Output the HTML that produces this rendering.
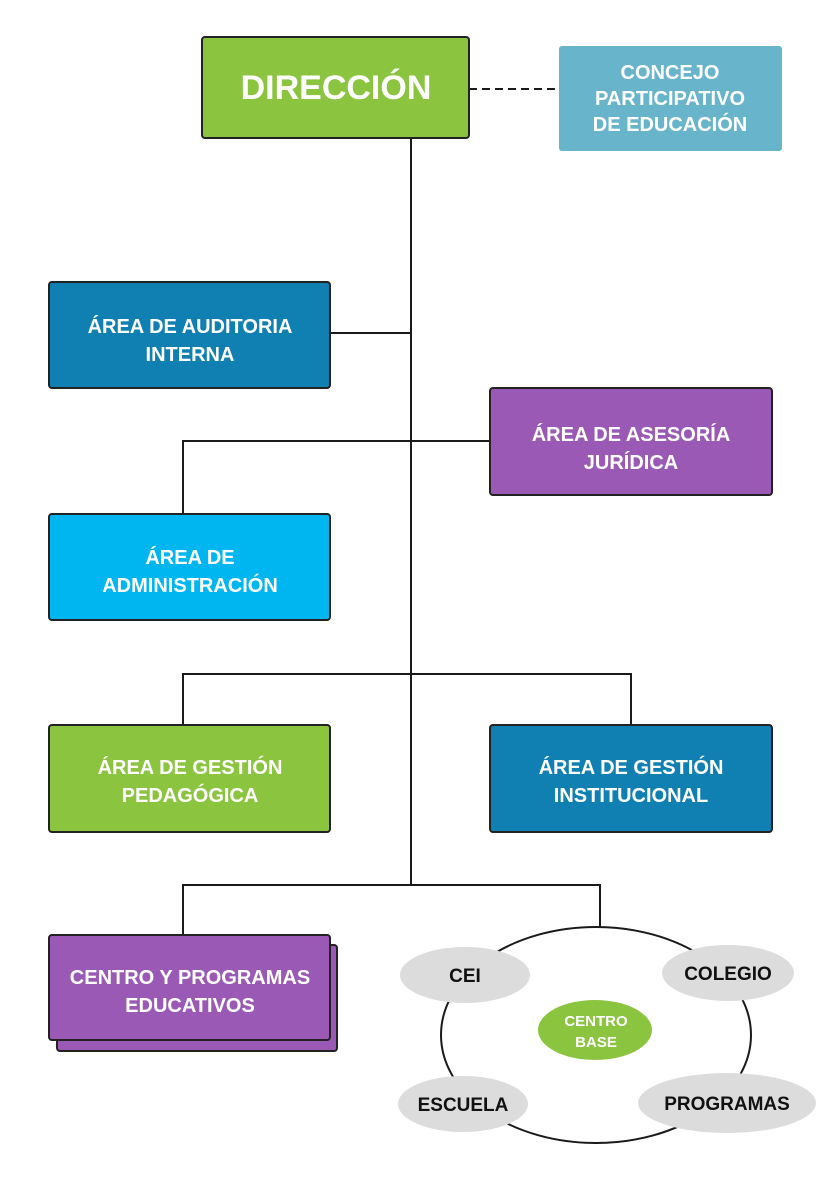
<!DOCTYPE html>
<html><head><meta charset="utf-8"><style>
html,body{margin:0;padding:0;background:#fff;}
svg{display:block;}
text{font-family:"Liberation Sans",sans-serif;font-weight:bold;text-anchor:middle;}
</style></head><body>
<svg width="821" height="1200" viewBox="0 0 821 1200" xmlns="http://www.w3.org/2000/svg">
<g stroke="#1a1a1a" stroke-width="2" fill="none">
<line x1="411" y1="138" x2="411" y2="885"/>
<line x1="469" y1="89" x2="559" y2="89" stroke-dasharray="8,5"/>
<line x1="330" y1="333" x2="411" y2="333"/>
<polyline points="183,514 183,441 490,441"/>
<polyline points="183,725 183,674 631,674 631,725"/>
<polyline points="183,935 183,885 600,885 600,927"/>
<ellipse cx="596" cy="1035" rx="155" ry="108"/>
</g>
<g stroke="#222" stroke-width="2">
<rect x="202" y="37" width="267" height="101" rx="3" fill="#8bc43f"/>
<rect x="49" y="282" width="281" height="106" rx="3" fill="#107fb1"/>
<rect x="490" y="388" width="282" height="107" rx="3" fill="#9b59b6"/>
<rect x="49" y="514" width="281" height="106" rx="3" fill="#00b6f1"/>
<rect x="49" y="725" width="281" height="107" rx="3" fill="#8bc43f"/>
<rect x="490" y="725" width="282" height="107" rx="3" fill="#107fb1"/>
<rect x="57" y="945" width="280" height="106" rx="3" fill="#9b59b6"/>
<rect x="49" y="935" width="281" height="105" rx="3" fill="#9b59b6"/>
</g>
<rect x="559" y="46" width="223" height="105" rx="3" fill="#67b4cb"/>
<g fill="#dcdcdc">
<ellipse cx="465" cy="975" rx="65" ry="28"/>
<ellipse cx="728" cy="973" rx="66" ry="28"/>
<ellipse cx="463" cy="1104" rx="65" ry="28"/>
<ellipse cx="727" cy="1103" rx="89" ry="30"/>
</g>
<ellipse cx="595" cy="1030" rx="57" ry="30" fill="#8bc43f"/>
<g fill="#fff">
<text x="336" y="99" font-size="34">DIRECCIÓN</text>
<text x="670" y="79" font-size="20">CONCEJO</text>
<text x="670" y="105" font-size="20">PARTICIPATIVO</text>
<text x="670" y="131" font-size="20">DE EDUCACIÓN</text>
<text x="190" y="333" font-size="20">ÁREA DE AUDITORIA</text>
<text x="190" y="361" font-size="20">INTERNA</text>
<text x="631" y="441" font-size="20">ÁREA DE ASESORÍA</text>
<text x="631" y="469" font-size="20">JURÍDICA</text>
<text x="190" y="564" font-size="20">ÁREA DE</text>
<text x="190" y="592" font-size="20">ADMINISTRACIÓN</text>
<text x="190" y="774" font-size="20">ÁREA DE GESTIÓN</text>
<text x="190" y="802" font-size="20">PEDAGÓGICA</text>
<text x="631" y="774" font-size="20">ÁREA DE GESTIÓN</text>
<text x="631" y="802" font-size="20">INSTITUCIONAL</text>
<text x="190" y="984" font-size="20">CENTRO Y PROGRAMAS</text>
<text x="190" y="1012" font-size="20">EDUCATIVOS</text>
<text x="596" y="1026" font-size="15">CENTRO</text>
<text x="596" y="1047" font-size="15">BASE</text>
</g>
<g fill="#111">
<text x="465" y="982" font-size="19">CEI</text>
<text x="728" y="980" font-size="19">COLEGIO</text>
<text x="463" y="1111" font-size="19">ESCUELA</text>
<text x="727" y="1110" font-size="19">PROGRAMAS</text>
</g>
</svg>
</body></html>
